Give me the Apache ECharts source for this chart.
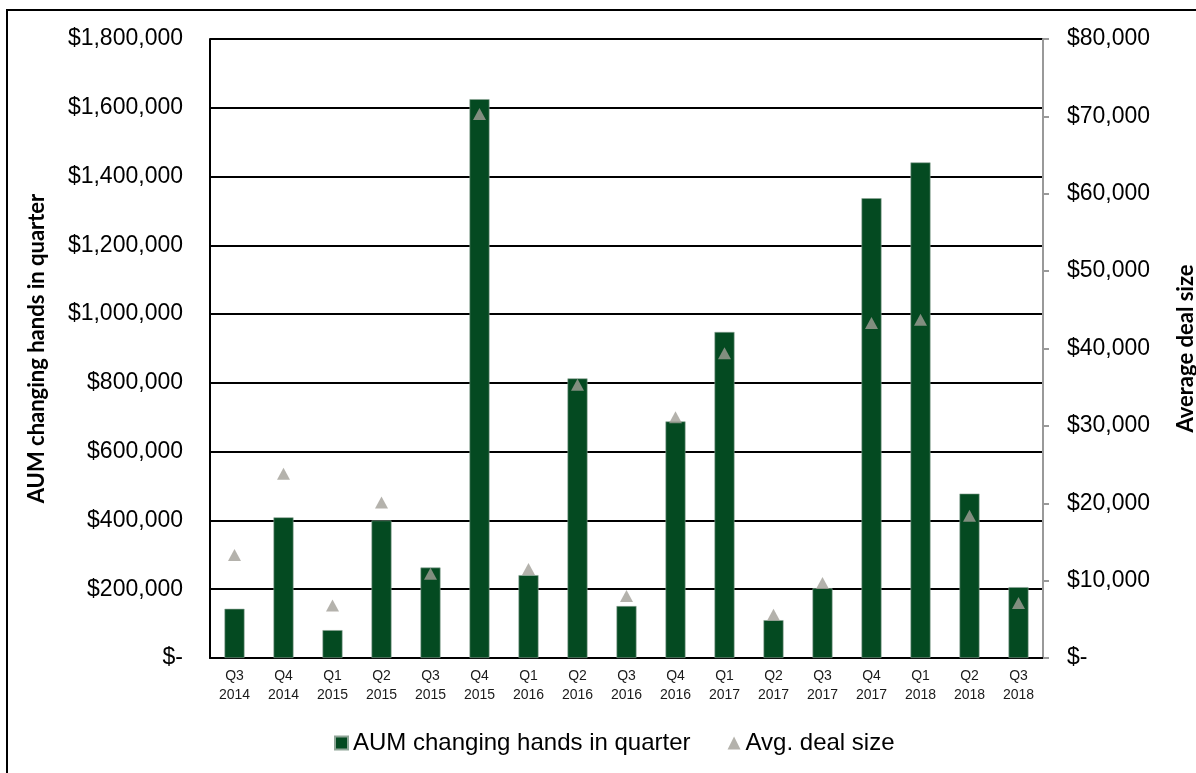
<!DOCTYPE html>
<html>
<head>
<meta charset="utf-8">
<script src="https://cdn.jsdelivr.net/npm/echarts@6/dist/echarts.min.js"></script>
<style>
  html, body { margin: 0; padding: 0; background: #fff; }
  #chart { width: 1196px; height: 773px; }
</style>
</head>
<body>
<div id="chart"></div>
<script>
// quarters on the x axis (two-line labels)
const quarters = [
  'Q3\n2014', 'Q4\n2014', 'Q1\n2015', 'Q2\n2015', 'Q3\n2015', 'Q4\n2015',
  'Q1\n2016', 'Q2\n2016', 'Q3\n2016', 'Q4\n2016', 'Q1\n2017', 'Q2\n2017',
  'Q3\n2017', 'Q4\n2017', 'Q1\n2018', 'Q2\n2018', 'Q3\n2018'
]

// AUM changing hands in quarter (left axis, $)
const aumValues = [
  143000, 409000, 81000, 400000, 263000, 1625000,
  241000, 813000, 151000, 688000, 948000, 110000,
  203000, 1337000, 1441000, 478000, 206000
]

// average deal size (right axis, $)
const avgDealValues = [
  13300, 23800, 6800, 20100, 10900, 70300,
  11500, 35300, 8000, 31100, 39400, 5600,
  9700, 43300, 43700, 18400, 7100
]

const seriesNames = ['AUM changing hands in quarter', 'Avg. deal size']

const money = (v) => v === 0 ? '$-' : '$' + v.toLocaleString('en-US')

const chart = echarts.init(document.getElementById('chart'))

const nameStyle = { fontFamily: 'Lato, sans-serif', fontWeight: 'bold', fontSize: 22, color: '#000' }

chart.setOption({
  animation: false,
  backgroundColor: '#fff',
  textStyle: { fontFamily: 'Liberation Sans, Arial, sans-serif' },
  graphic: [{
    type: 'rect',
    silent: true,
    shape: { x: 7, y: 10, width: 1230, height: 800 },
    style: { fill: 'none', stroke: '#000', lineWidth: 2 }
  }],
  grid: {
    left: 210,
    right: 153,
    top: 39,
    bottom: 115,
    outerBoundsMode: 'none'
  },
  legend: {
    bottom: 13,
    left: 329,
    itemGap: 37,
    itemWidth: 13,
    itemHeight: 13,
    textStyle: { fontSize: 24, color: '#000', fontFamily: 'Liberation Sans, Arial, sans-serif' },
    data: [
      { name: seriesNames[0], icon: 'rect' },
      { name: seriesNames[1], icon: 'triangle', itemStyle: { color: '#a19f97' } }
    ]
  },
  xAxis: {
    type: 'category',
    data: quarters,
    axisLine: { lineStyle: { color: '#000', width: 2 } },
    axisTick: { show: false },
    axisLabel: {
      color: '#1a1a1a',
      fontSize: 14,
      lineHeight: 19,
      margin: 9,
      interval: 0
    }
  },
  yAxis: [
    {
      type: 'value',
      min: 0,
      max: 1800000,
      interval: 200000,
      name: 'AUM changing hands in quarter',
      nameLocation: 'middle',
      nameGap: 162,
      nameTextStyle: nameStyle,
      axisLine: { show: true, lineStyle: { color: '#000', width: 2 } },
      axisTick: { show: false },
      axisLabel: { formatter: money, fontSize: 23, color: '#000', margin: 27 },
      splitLine: { lineStyle: { color: '#000', width: 2 } }
    },
    {
      type: 'value',
      min: 0,
      max: 80000,
      interval: 10000,
      position: 'right',
      name: 'Average deal size',
      nameLocation: 'middle',
      nameRotate: 90,
      nameGap: 132,
      nameTextStyle: nameStyle,
      axisLine: { show: true, lineStyle: { color: '#999', width: 2 } },
      axisTick: { show: true, length: 6, lineStyle: { color: '#999', width: 2 } },
      axisLabel: { formatter: money, fontSize: 23, color: '#000', margin: 24 },
      splitLine: { show: false }
    }
  ],
  series: [
    {
      name: seriesNames[0],
      type: 'bar',
      data: aumValues,
      barWidth: 20,
      itemStyle: { color: '#044a21', borderColor: '#8fa597', borderWidth: 0.6 }
    },
    {
      name: seriesNames[1],
      type: 'scatter',
      yAxisIndex: 1,
      data: avgDealValues,
      symbol: 'triangle',
      symbolSize: [13, 12],
      itemStyle: { color: '#a19f97' },
      z: 5
    }
  ]
})
</script>
</body>
</html>
